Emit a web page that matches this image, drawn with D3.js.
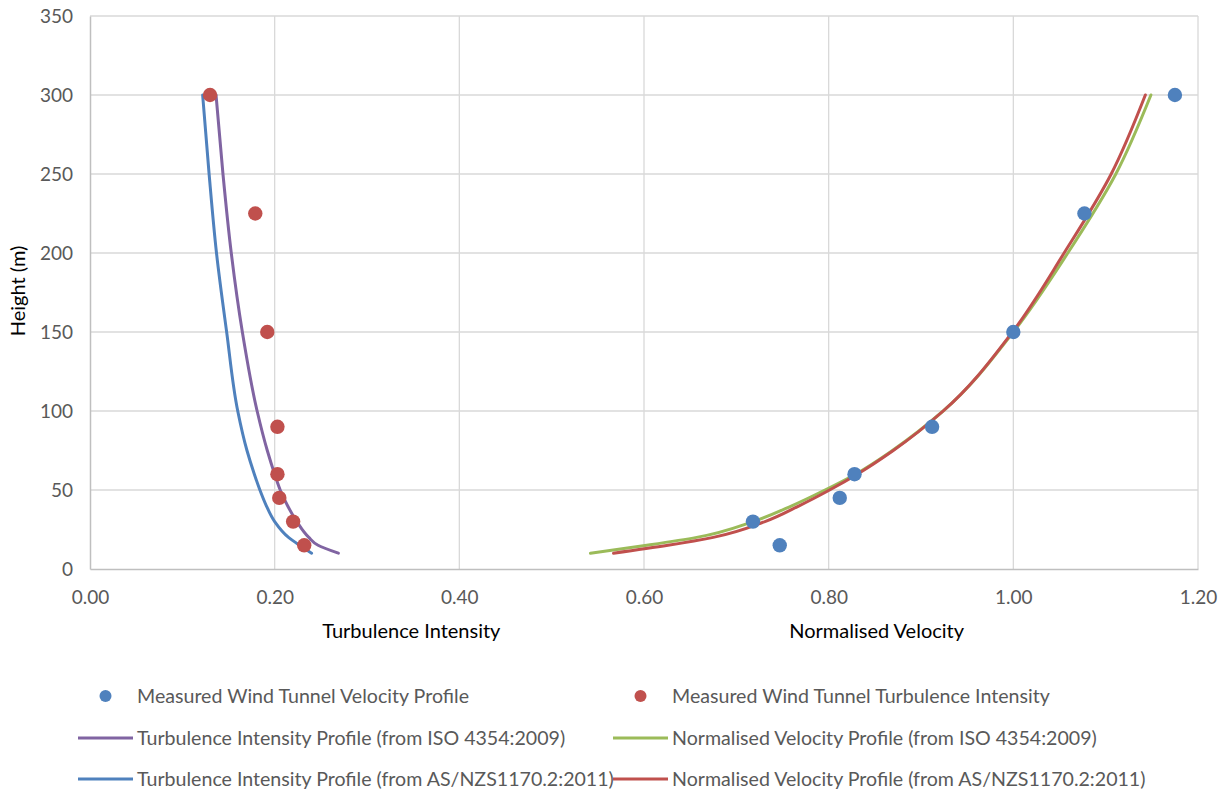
<!DOCTYPE html>
<html><head><meta charset="utf-8">
<script src="https://cdn.jsdelivr.net/npm/d3@7"></script>
<style>
html,body{margin:0;padding:0;background:#fff;}
text{font-family:Lato,"Noto Sans",sans-serif;}
</style></head>
<body><svg id="c" width="1228" height="796"></svg>
<script>
// ---- data ----
const measHeights = [300, 225, 150, 90, 60, 45, 30, 15];
const measVelocity = [1.175, 1.077, 1.000, 0.912, 0.828, 0.812, 0.718, 0.747];
const measTurbulence = [0.130, 0.179, 0.192, 0.203, 0.203, 0.205, 0.220, 0.232];

const profileHeights = [10, 15, 20, 30, 40, 50, 60, 75, 100, 150, 200, 250, 300];
const tiISO = [0.269, 0.247, 0.237, 0.224, 0.214, 0.206, 0.200, 0.192, 0.181, 0.165, 0.153, 0.144, 0.1365];
const tiAS  = [0.240, 0.227, 0.215, 0.200, 0.191, 0.184, 0.178, 0.170, 0.160, 0.148, 0.137, 0.129, 0.122];
const velISO = [0.542, 0.603, 0.657, 0.718, 0.760, 0.796, 0.829, 0.869, 0.924, 1.000, 1.059, 1.111, 1.149];
const velAS  = [0.567, 0.626, 0.675, 0.731, 0.768, 0.801, 0.831, 0.870, 0.924, 0.999, 1.055, 1.106, 1.143];

const xTicks = [0, 0.2, 0.4, 0.6, 0.8, 1.0, 1.2];
const yTicks = [0, 50, 100, 150, 200, 250, 300, 350];

const xTitles = [["Turbulence Intensity", 0.348], ["Normalised Velocity", 0.852]];
const yTitle = "Height (m)";

const legendItems = [
  {label: "Measured Wind Tunnel Velocity Profile", type: "dot", color: "#4F81BD"},
  {label: "Measured Wind Tunnel Turbulence Intensity", type: "dot", color: "#C0504D"},
  {label: "Turbulence Intensity Profile (from ISO 4354:2009)", type: "line", color: "#8064A2"},
  {label: "Normalised Velocity Profile (from ISO 4354:2009)", type: "line", color: "#9BBB59"},
  {label: "Turbulence Intensity Profile (from AS/NZS1170.2:2011)", type: "line", color: "#4F81BD"},
  {label: "Normalised Velocity Profile (from AS/NZS1170.2:2011)", type: "line", color: "#C0504D"}
];

// ---- chart ----
const svg = d3.select("#c");
const x = d3.scaleLinear().domain([0, 1.2]).range([90, 1198]);
const y = d3.scaleLinear().domain([0, 350]).range([569, 16]);

// gridlines
svg.append("g").selectAll("line").data(yTicks.filter(d => d > 0)).join("line")
  .attr("x1", x(0)).attr("x2", x(1.2)).attr("y1", d => y(d)).attr("y2", d => y(d))
  .attr("stroke", "#d9d9d9").attr("stroke-width", 1.3);
svg.append("g").selectAll("line").data(xTicks.filter(d => d > 0)).join("line")
  .attr("y1", y(0)).attr("y2", y(350)).attr("x1", d => x(d)).attr("x2", d => x(d))
  .attr("stroke", "#d9d9d9").attr("stroke-width", 1.3);

// axes
const xAxis = svg.append("g").attr("transform", `translate(0,${y(0)})`)
  .call(d3.axisBottom(x).tickValues(xTicks).tickFormat(d3.format(".2f")).tickSize(0).tickPadding(22));
const yAxis = svg.append("g").attr("transform", `translate(${x(0)},0)`)
  .call(d3.axisLeft(y).tickValues(yTicks).tickSize(0).tickPadding(17));
[xAxis, yAxis].forEach(a => {
  a.select(".domain").attr("stroke", "#bfbfbf").attr("stroke-width", 1.5);
  a.selectAll("text").attr("fill", "#595959").style("font-size", "19px").style("font-family", "Lato, 'Noto Sans', sans-serif");
});
yAxis.selectAll("text").attr("dy", "0.34em");

// axis titles
xTitles.forEach(([t, v]) => {
  svg.append("text").attr("x", x(v)).attr("y", 638).attr("text-anchor", "middle")
    .attr("fill", "#000").style("font-size", "20px").text(t);
});
svg.append("text").attr("transform", `translate(25,${y(176)}) rotate(-90)`)
  .attr("text-anchor", "middle").attr("fill", "#000").style("font-size", "20px").text(yTitle);

// lines
const lineGen = (vals) => d3.line().curve(d3.curveMonotoneY)
  .x((d, i) => x(vals[i])).y(d => y(d))(profileHeights);
[[tiISO, "#8064A2"], [velISO, "#9BBB59"], [tiAS, "#4F81BD"], [velAS, "#C0504D"]].forEach(([vals, c]) => {
  svg.append("path").attr("d", lineGen(vals)).attr("fill", "none").attr("stroke", c)
    .attr("stroke-width", 3).attr("stroke-linejoin", "round").attr("stroke-linecap", "round");
});

// points
svg.append("g").selectAll("circle").data(measHeights).join("circle")
  .attr("cx", (d, i) => x(measVelocity[i])).attr("cy", d => y(d)).attr("r", 7.2).attr("fill", "#4F81BD");
svg.append("g").selectAll("circle").data(measHeights).join("circle")
  .attr("cx", (d, i) => x(measTurbulence[i])).attr("cy", d => y(d)).attr("r", 7.2).attr("fill", "#C0504D");

// legend
const colX = [78, 613], rowY = [696, 738, 779];
legendItems.forEach((it, i) => {
  const gx = colX[i % 2], gy = rowY[Math.floor(i / 2)];
  const g = svg.append("g").attr("transform", `translate(${gx},${gy})`);
  if (it.type === "dot") {
    g.append("circle").attr("cx", 27.5).attr("cy", 0).attr("r", 6).attr("fill", it.color);
  } else {
    g.append("line").attr("x1", 0).attr("x2", 55).attr("y1", 0).attr("y2", 0)
      .attr("stroke", it.color).attr("stroke-width", 3);
  }
  g.append("text").attr("x", 59).attr("y", 0).attr("dy", "0.35em").attr("fill", "#595959")
    .style("font-size", "19.6px").text(it.label);
});
</script></body></html>
